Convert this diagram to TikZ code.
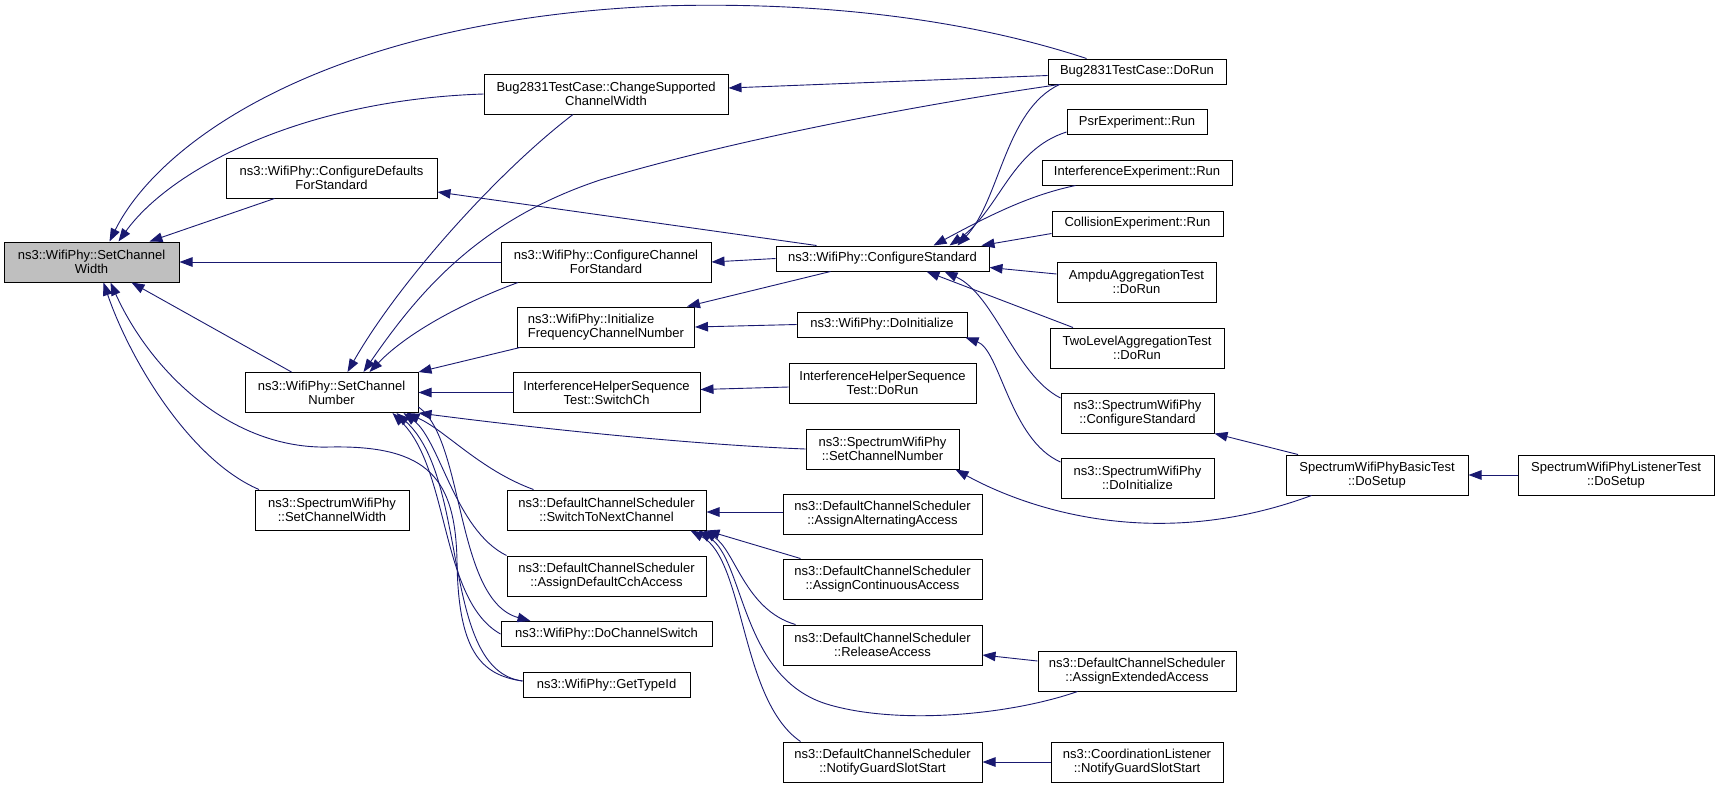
\documentclass[tikz,border=0pt]{standalone}
\usepackage{fontspec}
\setmainfont{Liberation Sans}
\usepackage{tikz}
\usetikzlibrary{arrows.meta}
\definecolor{edgeblue}{HTML}{191970}
\definecolor{rootgray}{HTML}{BFBFBF}
\newcommand{\boxfont}{\fontsize{13}{14}\selectfont}

\begin{document}
\begin{tikzpicture}[x=1pt, y=-1pt, >={Triangle[length=13pt,width=9.5pt]},
    fn/.style={draw=black, fill=white, line width=1pt, inner sep=0pt, align=center, font=\boxfont},
    one/.style={fn, minimum height=25pt},
    two/.style={fn, minimum height=40pt},
    call/.style={<-, draw=edgeblue, line width=0.9pt}]
    \useasboundingbox (0,0) rectangle (1720,788);

    % First column of nodes
    \node[two, fill=rootgray, minimum width=175pt] (A1) at (91.5,262) {ns3::WifiPhy::SetChannel\\Width};

    % Second column of nodes
    \node[two, minimum width=211pt] (B1) at (331.5,178) {ns3::WifiPhy::ConfigureDefaults\\ForStandard};
    \node[two, minimum width=173pt] (B2) at (331.5,392.5) {ns3::WifiPhy::SetChannel\\Number};
    \node[two, minimum width=154pt] (B3) at (332,510) {ns3::SpectrumWifiPhy\\::SetChannelWidth};

    % Third column of nodes
    \node[two, minimum width=244pt] (C1) at (606,94) {Bug2831TestCase::ChangeSupported\\ChannelWidth};
    \node[two, minimum width=210pt] (C2) at (606,262) {ns3::WifiPhy::ConfigureChannel\\ForStandard};
    \node[two, align=left, minimum width=177pt] (C3) at (606,327) {ns3::WifiPhy::Initialize\\FrequencyChannelNumber};
    \node[two, minimum width=187pt] (C4) at (606.5,392.5) {InterferenceHelperSequence\\Test::SwitchCh};
    \node[two, minimum width=199pt] (C5) at (606.5,510) {ns3::DefaultChannelScheduler\\::SwitchToNextChannel};
    \node[two, minimum width=199pt] (C6) at (606.5,576) {ns3::DefaultChannelScheduler\\::AssignDefaultCchAccess};
    \node[one, minimum width=211pt] (C7) at (606.5,634) {ns3::WifiPhy::DoChannelSwitch};
    \node[one, minimum width=167pt] (C8) at (606.5,685) {ns3::WifiPhy::GetTypeId};

    % Fourth column of nodes
    \node[one, minimum width=213pt] (D1) at (882.5,258.5) {ns3::WifiPhy::ConfigureStandard};
    \node[one, minimum width=170pt] (D2) at (882,324.5) {ns3::WifiPhy::DoInitialize};
    \node[two, minimum width=187pt] (D3) at (882.5,383) {InterferenceHelperSequence\\Test::DoRun};
    \node[two, minimum width=153pt] (D4) at (882.5,449) {ns3::SpectrumWifiPhy\\::SetChannelNumber};
    \node[two, minimum width=199pt] (D5) at (882.5,514) {ns3::DefaultChannelScheduler\\::AssignAlternatingAccess};
    \node[two, minimum width=199pt] (D6) at (882.5,579) {ns3::DefaultChannelScheduler\\::AssignContinuousAccess};
    \node[two, minimum width=199pt] (D7) at (882.5,645) {ns3::DefaultChannelScheduler\\::ReleaseAccess};
    \node[two, minimum width=199pt] (D8) at (882.5,762) {ns3::DefaultChannelScheduler\\::NotifyGuardSlotStart};

    % Fifth column of nodes
    \node[one, minimum width=178pt] (E1) at (1137,71.5) {Bug2831TestCase::DoRun};
    \node[one, minimum width=140pt] (E2) at (1137,122) {PsrExperiment::Run};
    \node[one, minimum width=190pt] (E3) at (1137,172.5) {InterferenceExperiment::Run};
    \node[one, minimum width=171pt] (E4) at (1137.5,223.5) {CollisionExperiment::Run};
    \node[two, minimum width=159pt] (E5) at (1136.5,282) {AmpduAggregationTest\\::DoRun};
    \node[two, minimum width=174pt] (E6) at (1137,348) {TwoLevelAggregationTest\\::DoRun};
    \node[two, minimum width=153pt] (E7) at (1137.5,413) {ns3::SpectrumWifiPhy\\::ConfigureStandard};
    \node[two, minimum width=153pt] (E8) at (1137.5,478) {ns3::SpectrumWifiPhy\\::DoInitialize};
    \node[two, minimum width=198pt] (E9) at (1137,671) {ns3::DefaultChannelScheduler\\::AssignExtendedAccess};
    \node[two, minimum width=172pt] (E10) at (1137,762) {ns3::CoordinationListener\\::NotifyGuardSlotStart};

    % Last two columns
    \node[two, minimum width=182pt] (F1) at (1377,475) {SpectrumWifiPhyBasicTest\\::DoSetup};
    \node[two, minimum width=196pt] (G1) at (1616,475) {SpectrumWifiPhyListenerTest\\::DoSetup};

    % Edges into A1
    \draw[call] ([xshift=18pt]A1.north) .. controls (160,140) and (330,20) .. (660,6) .. controls (860,0) and (1000,30) .. ([xshift=39pt]E1.north west);
    \draw[call] ([xshift=27pt]A1.north) .. controls (170,170) and (300,100) .. (C1.west);
    \draw[call] ([xshift=58pt]A1.north) -- ([xshift=-57pt]B1.south);
    \draw[call] (A1) -- (C2);
    \draw[call] ([xshift=40pt]A1.south) -- ([xshift=-40pt]B2.north);
    \draw[call] ([xshift=12pt]A1.south) .. controls (130,360) and (190,460) .. ([xshift=-73pt]B3.north);
    \draw[call] ([xshift=19pt]A1.south) .. controls (150,370) and (230,450) .. (330,447) .. controls (430,445) and (455,480) .. (457,560) .. controls (458,650) and (480,675) .. ([yshift=4pt]C8.west);

    % Edges into B2
    \draw[call] ([xshift=16pt]B2.north) .. controls (400,280) and (500,170) .. ([xshift=-33pt]C1.south);
    \draw[call] ([xshift=32pt]B2.north) .. controls (420,290) and (480,220) .. (600,180) .. controls (750,135) and (950,100) .. ([xshift=12pt]E1.south west);
    \draw[call] ([xshift=38pt]B2.north) .. controls (410,330) and (470,300) .. ([xshift=-88pt]C2.south);
    \draw[call] (B2.north east) -- ([xshift=-86pt]C3.south);
    \draw[call] (B2) -- (C4);
    \draw[call] (B2.south east) .. controls (550,430) and (700,445) .. (D4.west);
    \draw[call] ([xshift=-12pt]B2.south east) .. controls (445,430) and (480,470) .. ([xshift=-73pt]C5.north);
    \draw[call] ([xshift=-15pt]B2.south east) .. controls (440,440) and (455,530) .. (C6.north west);
    \draw[call] ([xshift=-26pt]B2.south east) .. controls (450,470) and (440,600) .. (C7.west);
    \draw[call] ([xshift=-22pt]B2.south east) .. controls (470,480) and (440,670) .. ([yshift=4pt]C8.west);
    \draw[call] ([xshift=-76pt]C7.north) .. controls (455,600) and (465,440) .. ([yshift=6pt]B2.south east);

    % Edges from D1
    \draw[call] ([yshift=-14pt]B1.east) -- ([xshift=-66pt]D1.north);
    \draw[call] (C2.east) -- (D1.west);
    \draw[call] ([xshift=-8pt]C3.north east) -- ([xshift=-52pt]D1.south);

    % Edges into D1
    \draw[call] ([xshift=75pt]D1.north) .. controls (1000,200) and (1005,110) .. ([xshift=12pt]E1.south west);
    \draw[call] ([xshift=67pt]D1.north) .. controls (1000,210) and (1010,150) .. ([yshift=-10pt]E2.west);
    \draw[call] ([xshift=51pt]D1.north) .. controls (990,215) and (1030,195) .. ([xshift=34pt]E3.south west);
    \draw[call] ([xshift=-8pt]D1.north east) -- ([yshift=-10pt]E4.west);
    \draw[call] ([yshift=-9pt]D1.east) -- ([yshift=8pt]E5.west);
    \draw[call] ([xshift=44pt]D1.south) -- ([xshift=-64pt]E6.north);
    \draw[call] ([xshift=62pt]D1.south) .. controls (995,295) and (1015,375) .. ([yshift=15pt]E7.west);

    % Remaining edges
    \draw[call] ([yshift=6pt]C1.east) -- ([yshift=-4pt]E1.west);
    \draw[call] (C3.east) -- (D2.west);
    \draw[call] ([yshift=3pt]C4.east) -- ([yshift=-4pt]D3.west);
    \draw[call] ([xshift=-2pt]D2.south east) .. controls (1000,350) and (1010,440) .. ([yshift=16pt]E8.west);
    \draw[call] ([xshift=-4pt]D4.south east) .. controls (1020,505) and (1150,555) .. ([xshift=26pt]F1.south west);
    \draw[call] (E7.south east) -- ([xshift=-79pt]F1.north);
    \draw[call] (F1) -- (G1);
    \draw[call] ([yshift=-2pt]C5.east) -- ([yshift=2pt]D5.west);
    \draw[call] (C5.south east) -- ([xshift=18pt]D6.north west);
    \draw[call] ([xshift=-3pt]C5.south east) .. controls (735,550) and (745,610) .. ([xshift=13pt]D7.north west);
    \draw[call] ([xshift=-8pt]C5.south east) .. controls (745,560) and (740,680) .. (830,705) .. controls (900,725) and (1010,715) .. ([xshift=40pt]E9.south west);
    \draw[call] ([xshift=-16pt]C5.south east) .. controls (745,560) and (740,700) .. ([xshift=18pt]D8.north west);
    \draw[call] ([yshift=-10pt]D7.east) -- ([yshift=10pt]E9.west);
    \draw[call] (D8) -- (E10);
\end{tikzpicture}
\end{document}
